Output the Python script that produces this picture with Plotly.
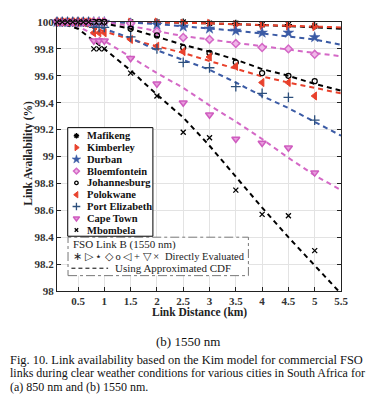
import plotly.graph_objects as go

# ---------------- data ----------------
dist_pts = [0.1, 0.2, 0.3, 0.4, 0.5, 0.6, 0.7, 0.8, 0.9, 1.0, 1.5, 2.0, 2.5, 3.0, 3.5, 4.0, 4.5, 5.0]
dist_line = [0.1, 0.5, 1.0, 1.5, 2.0, 2.5, 3.0, 3.5, 4.0, 4.5, 5.0, 5.5]

cities = ["Mafikeng", "Kimberley", "Durban", "Bloemfontein", "Johannesburg",
          "Polokwane", "Port Elizabeth", "Cape Town", "Mbombela"]

mafikeng_pts = [100, 100, 100, 100, 100, 100, 100, 100, 100, 100, 100, 100, 100, 99.99, 99.99, 99.98, 99.98, 99.97]
kimberley_pts = [100, 100, 100, 100, 100, 100, 100, 100, 100, 100, 100, 100, 99.99, 99.99, 99.98, 99.975, 99.97, 99.966]
durban_pts = [100, 100, 100, 100, 100, 100, 100, 100, 100, 100, 99.99, 99.98, 99.965, 99.95, 99.935, 99.92, 99.92, 99.886]
bloemfontein_pts = [100, 100, 100, 100, 100, 100, 100, 100, 100, 100, 99.99, 99.93, 99.885, 99.87, 99.84, 99.81, 99.80, 99.76]
johannesburg_pts = [100, 100, 100, 100, 100, 100, 100, 100, 100, 100, 99.95, 99.90, 99.81, 99.77, 99.70, 99.62, 99.60, 99.56]
polokwane_pts = [100, 100, 100, 100, 100, 100, 100, 99.92, 99.92, 99.92, 99.87, 99.82, 99.78, 99.74, 99.67, 99.55, 99.55, 99.45]
portelizabeth_pts = [100, 100, 100, 100, 100, 100, 100, 99.96, 99.96, 99.96, 99.89, 99.80, 99.70, 99.66, 99.52, 99.47, 99.44, 99.27]
capetown_pts = [100, 100, 100, 100, 100, 100, 100, 99.86, 99.86, 99.86, 99.73, 99.54, 99.40, 99.31, 99.13, 99.10, 99.065, 98.88]
mbombela_pts = [100, 100, 100, 100, 100, 100, 100, 99.80, 99.80, 99.80, 99.62, 99.45, 99.18, 99.14, 98.75, 98.57, 98.56, 98.30]

mafikeng_cdf = [100, 100, 100, 100, 100, 99.995, 99.99, 99.985, 99.98, 99.97, 99.96, 99.95]
kimberley_cdf = [100, 100, 100, 100, 100, 99.995, 99.99, 99.985, 99.98, 99.975, 99.968, 99.96]
durban_cdf = [100, 100, 100, 99.995, 99.985, 99.97, 99.95, 99.935, 99.915, 99.895, 99.87, 99.83]
bloemfontein_cdf = [100, 100, 100, 99.97, 99.93, 99.895, 99.87, 99.845, 99.82, 99.795, 99.77, 99.745]
johannesburg_cdf = [100, 100, 99.99, 99.95, 99.89, 99.83, 99.78, 99.72, 99.65, 99.60, 99.54, 99.49]
polokwane_cdf = [100, 99.99, 99.93, 99.87, 99.82, 99.77, 99.71, 99.655, 99.595, 99.55, 99.51, 99.47]
portelizabeth_cdf = [100, 100, 99.95, 99.88, 99.79, 99.72, 99.645, 99.55, 99.45, 99.36, 99.255, 99.155]
capetown_cdf = [100, 99.97, 99.86, 99.74, 99.62, 99.51, 99.38, 99.26, 99.13, 98.99, 98.86, 98.75]
mbombela_cdf = [100, 99.95, 99.80, 99.64, 99.46, 99.29, 99.08, 98.85, 98.62, 98.40, 98.19, 97.98]

x_ticks = [0.5, 1, 1.5, 2, 2.5, 3, 3.5, 4, 4.5, 5, 5.5]
x_tick_labels = ["0.5", "1", "1.5", "2", "2.5", "3", "3.5", "4", "4.5", "5", "5.5"]
y_ticks = [98, 98.2, 98.4, 98.6, 98.8, 99, 99.2, 99.4, 99.6, 99.8, 100]
y_tick_labels = ["98", "98.2", "98.4", "98.6", "98.8", "99", "99.2", "99.4", "99.6", "99.8", "100"]

# ---------------- styles ----------------
BLACK = "#000000"
RED = "#E8412C"
BLUE = "#3B5BA5"
DBLUE = "#2C4F7C"
PINK = "#D468C6"
PINK2 = "#CF5CBF"

pts_all = [mafikeng_pts, kimberley_pts, durban_pts, bloemfontein_pts, johannesburg_pts,
           polokwane_pts, portelizabeth_pts, capetown_pts, mbombela_pts]
cdf_all = [mafikeng_cdf, kimberley_cdf, durban_cdf, bloemfontein_cdf, johannesburg_cdf,
           polokwane_cdf, portelizabeth_cdf, capetown_cdf, mbombela_cdf]
line_colors = [BLACK, RED, BLUE, PINK, BLACK, RED, BLUE, PINK, BLACK]
marker_styles = [
    dict(symbol="asterisk-open", size=6, color=BLACK, line=dict(color=BLACK, width=1.3)),
    dict(symbol="triangle-right", size=7, color=RED, line=dict(color=RED, width=1)),
    dict(symbol="star", size=8, color=BLUE, line=dict(color=BLUE, width=0.5)),
    dict(symbol="diamond", size=6, color="#F0B8E8", line=dict(color=PINK, width=1.5)),
    dict(symbol="circle-open", size=5, color=BLACK, line=dict(color=BLACK, width=1.3)),
    dict(symbol="triangle-left", size=7, color=RED, line=dict(color=RED, width=1)),
    dict(symbol="cross-thin-open", size=7, color=DBLUE, line=dict(color=DBLUE, width=1.3)),
    dict(symbol="triangle-down", size=7, color="#E79BDC", line=dict(color=PINK2, width=1.5)),
    dict(symbol="x-thin-open", size=5, color=BLACK, line=dict(color=BLACK, width=1.3)),
]
legend_marker_styles = [dict(ms, size=ms["size"] - 1.5) for ms in marker_styles]

SERIF = "Liberation Serif, Times New Roman, serif"

fig = go.Figure()

# dashed approximated-CDF curves
for name, cdf, col in zip(cities, cdf_all, line_colors):
    fig.add_trace(go.Scatter(x=dist_line, y=cdf, mode="lines", name=name + " CDF",
                             line=dict(color=col, width=2, dash="5px,4px"),
                             showlegend=False, hoverinfo="skip"))

# directly evaluated points
for name, pts, ms in zip(cities, pts_all, marker_styles):
    fig.add_trace(go.Scatter(x=dist_pts, y=pts, mode="markers", name=name,
                             marker=ms, showlegend=False, cliponaxis=False))

# ---------------- custom legend (overlay axis in paper fractions) ----------------
# plot-area edges in page pixels (page has an 8px body margin)
L, R, T, B = 57.3, 340.7, 16.0, 291.0
def px(xp):
    return (xp - L) / (R - L)
def py(yp):
    return (B - yp) / (B - T)

annotations = []

# FSO link box (dash-dot)
fx0, fx1, fy0, fy1 = px(68.3), px(248.3), py(275.3), py(236)
fig.add_trace(go.Scatter(x=[fx0, fx1, fx1, fx0, fx0], y=[fy0, fy0, fy1, fy1, fy0],
                         mode="lines", fill="toself", fillcolor="white",
                         line=dict(color="#777777", width=1, dash="dashdot"),
                         xaxis="x2", yaxis="y2", showlegend=False, hoverinfo="skip"))
# legend box
lx0, lx1, ly0, ly1 = px(68), px(153), py(235), py(124)
fig.add_trace(go.Scatter(x=[lx0, lx1, lx1, lx0, lx0], y=[ly0, ly0, ly1, ly1, ly0],
                         mode="lines", fill="toself", fillcolor="white",
                         line=dict(color="#000000", width=1),
                         xaxis="x2", yaxis="y2", showlegend=False, hoverinfo="skip"))

for i, (name, ms) in enumerate(zip(cities, legend_marker_styles)):
    yrow = py(132.3 + i * 12.05)
    fig.add_trace(go.Scatter(x=[px(76.7)], y=[yrow], mode="markers", marker=ms,
                             xaxis="x2", yaxis="y2", showlegend=False, hoverinfo="skip",
                             cliponaxis=False))
    annotations.append(dict(x=px(85.5), y=yrow, xref="paper", yref="paper", text="<b>" + name + "</b>",
                            showarrow=False, xanchor="left", yanchor="middle",
                            font=dict(family=SERIF, size=10.5, color="#111")))

# dashed sample in FSO box
fig.add_trace(go.Scatter(x=[px(71.7), px(108.3)], y=[py(267.7), py(267.7)], mode="lines",
                         line=dict(color=BLACK, width=1, dash="4px,3px"),
                         xaxis="x2", yaxis="y2", showlegend=False, hoverinfo="skip"))

CAP = 12
annotations += [
    dict(x=px(71.7), y=py(243.3), xref="paper", yref="paper", text="FSO Link B (1550 nm)",
         showarrow=False, xanchor="left", yanchor="middle",
         font=dict(family=SERIF, size=11, color="#222")),
    dict(x=px(71.2), y=py(256), xref="paper", yref="paper",
         text="∗ ▷ ⋆ ◇ ο ◁ + ▽ ×",
         showarrow=False, xanchor="left", yanchor="middle",
         font=dict(family=SERIF, size=10.5, color="#222")),
    dict(x=px(163), y=py(256), xref="paper", yref="paper", text="Directly Evaluated",
         showarrow=False, xanchor="left", yanchor="middle",
         font=dict(family=SERIF, size=10.5, color="#222")),
    dict(x=px(113), y=py(267.7), xref="paper", yref="paper", text="Using Approximated CDF",
         showarrow=False, xanchor="left", yanchor="middle",
         font=dict(family=SERIF, size=11, color="#222")),
    # axis titles
    dict(x=0.5, y=py(313), xref="paper", yref="paper", text="<b>Link Distance (km)</b>",
         showarrow=False, xanchor="center", yanchor="middle",
         font=dict(family=SERIF, size=11.5, color="#222")),
    dict(x=px(28), y=py(150), xref="paper", yref="paper", text="<b>Link Availability (%)</b>",
         showarrow=False, xanchor="center", yanchor="middle", textangle=-90,
         font=dict(family=SERIF, size=11.5, color="#222")),
    # sub-caption and caption
    dict(x=px(188.5), y=py(343), xref="paper", yref="paper", text="(b) 1550 nm",
         showarrow=False, xanchor="center", yanchor="middle",
         font=dict(family=SERIF, size=13, color="#111")),
    dict(x=px(8.5), y=py(361.7), xref="paper", yref="paper",
         text="Fig. 10. Link availability based on the Kim model for commercial FSO",
         showarrow=False, xanchor="left", yanchor="middle",
         font=dict(family=SERIF, size=12.4, color="#111")),
    dict(x=px(8.5), y=py(375.3), xref="paper", yref="paper",
         text="links during clear weather conditions for various cities in South Africa for",
         showarrow=False, xanchor="left", yanchor="middle",
         font=dict(family=SERIF, size=CAP, color="#111")),
    dict(x=px(8.5), y=py(389.3), xref="paper", yref="paper",
         text="(a) 850 nm and (b) 1550 nm.",
         showarrow=False, xanchor="left", yanchor="middle",
         font=dict(family=SERIF, size=CAP, color="#111")),
]

tickfont = dict(family=SERIF, size=11, color="#333")
fig.update_layout(
    width=373, height=399,
    margin=dict(l=49, r=40, t=8, b=116),
    paper_bgcolor="white", plot_bgcolor="white",
    showlegend=False,
    xaxis=dict(range=[0.1, 5.5], tickvals=x_ticks, ticktext=["<b>" + t + "</b>" for t in x_tick_labels],
               showgrid=True, gridcolor="#E3E3E3", gridwidth=1, zeroline=False,
               showline=True, linecolor="#222", linewidth=1, mirror="ticks",
               ticks="inside", ticklen=4, tickcolor="#222", tickfont=tickfont),
    yaxis=dict(range=[98, 100], tickvals=y_ticks, ticktext=["<b>" + t + "</b>" for t in y_tick_labels],
               showgrid=True, gridcolor="#E3E3E3", gridwidth=1, zeroline=False,
               showline=True, linecolor="#222", linewidth=1, mirror="ticks",
               ticks="inside", ticklen=4, tickcolor="#222", tickfont=tickfont),
    xaxis2=dict(overlaying="x", range=[0, 1], visible=False, fixedrange=True),
    yaxis2=dict(overlaying="y", range=[0, 1], visible=False, fixedrange=True),
    annotations=annotations,
)

fig.write_html("out.html")
